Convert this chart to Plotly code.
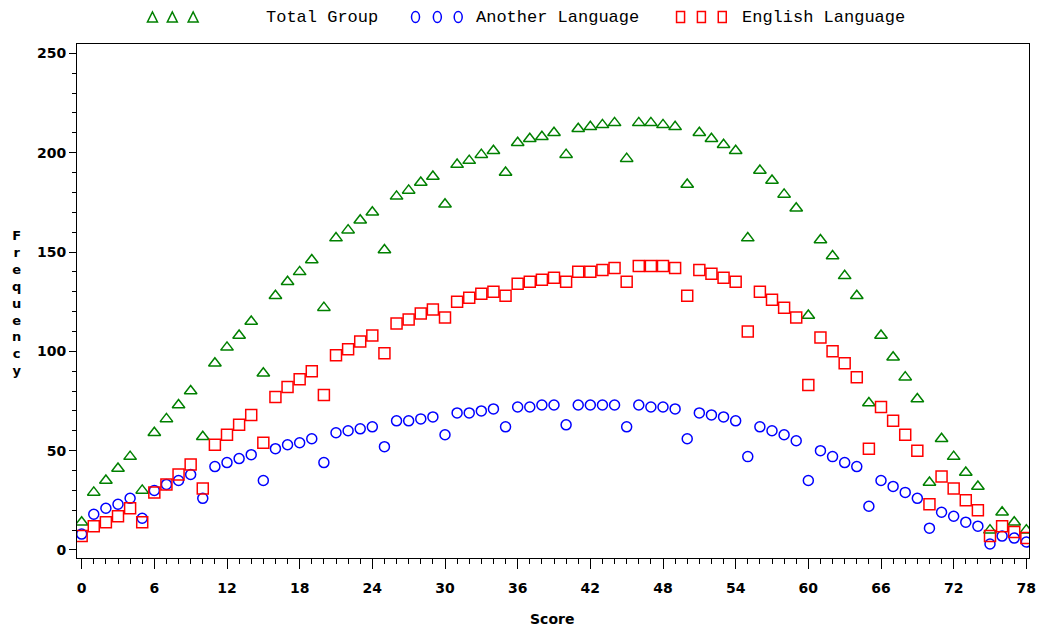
import plotly.graph_objects as go

# Score values 0..78
score = list(range(79))

total_group = [14, 29, 35, 41, 47, 30, 59, 66, 73, 80,
               57, 94, 102, 108, 115, 89, 128, 135, 140, 146,
               122, 157, 161, 166, 170, 151, 178, 181, 185, 188,
               174, 194, 196, 199, 201, 190, 205, 207, 208, 210,
               199, 212, 213, 214, 215, 197, 215, 215, 214, 213,
               184, 210, 207, 204, 201, 157, 191, 186, 179, 172,
               118, 156, 148, 138, 128, 74, 108, 97, 87, 76,
               34, 56, 47, 39, 32, 10, 19, 14, 10]

another_language = [8, 18, 21, 23, 26, 16, 30, 33, 35, 38,
                    26, 42, 44, 46, 48, 35, 51, 53, 54, 56,
                    44, 59, 60, 61, 62, 52, 65, 65, 66, 67,
                    58, 69, 69, 70, 71, 62, 72, 72, 73, 73,
                    63, 73, 73, 73, 73, 62, 73, 72, 72, 71,
                    56, 69, 68, 67, 65, 47, 62, 60, 58, 55,
                    35, 50, 47, 44, 42, 22, 35, 32, 29, 26,
                    11, 19, 17, 14, 12, 3, 7, 6, 4]

english_language = [7, 12, 14, 17, 21, 14, 29, 33, 38, 43,
                    31, 53, 58, 63, 68, 54, 77, 82, 86, 90,
                    78, 98, 101, 105, 108, 99, 114, 116, 119, 121,
                    117, 125, 127, 129, 130, 128, 134, 135, 136, 137,
                    135, 140, 140, 141, 142, 135, 143, 143, 143, 142,
                    128, 141, 139, 137, 135, 110, 130, 126, 122, 117,
                    83, 107, 100, 94, 87, 51, 72, 65, 58, 50,
                    23, 37, 31, 25, 20, 7, 12, 9, 6]

series_names = ["Total Group", "Another Language", "English Language"]
x_tick_step = 6
y_tick_step = 50

GREEN = "#008000"
BLUE = "#0000FF"
RED = "#FF0000"

W, H = 1044, 626
L, R, T, B = 77, 1036, 44, 558


def px_x(px):
    return (px - L) / (R - L)


def px_y(py):
    return (B - py) / (B - T)


fig = go.Figure()

fig.add_trace(go.Scatter(
    x=score, y=total_group, mode="markers", name=series_names[0],
    marker=dict(symbol="triangle-up-open", size=11, color=GREEN,
                line=dict(width=1.5, color=GREEN)),
))
fig.add_trace(go.Scatter(
    x=score, y=another_language, mode="markers", name=series_names[1],
    marker=dict(symbol="circle-open", size=10, color=BLUE,
                line=dict(width=1.5, color=BLUE)),
))
fig.add_trace(go.Scatter(
    x=score, y=english_language, mode="markers", name=series_names[2],
    marker=dict(symbol="square-open", size=11, color=RED,
                line=dict(width=1.5, color=RED)),
))

tick_font = dict(family="DejaVu Sans", size=14, color="black", weight="bold")

fig.update_xaxes(
    range=[-0.385, 78.22], tickmode="linear", tick0=0, dtick=x_tick_step,
    ticks="outside", ticklen=10, tickwidth=1, tickcolor="black",
    ticklabelstandoff=7,
    showline=True, linecolor="black", linewidth=1, mirror=True,
    showgrid=False, zeroline=False, tickfont=tick_font,
    minor=dict(dtick=1, ticks="outside", ticklen=5, tickwidth=1,
               tickcolor="black", showgrid=False),
)
fig.update_yaxes(
    range=[-4.03, 254.7], tickmode="linear", tick0=0, dtick=y_tick_step,
    ticks="outside", ticklen=7, tickwidth=1, tickcolor="black",
    showline=True, linecolor="black", linewidth=1, mirror=True,
    showgrid=False, zeroline=False, tickfont=tick_font,
    minor=dict(dtick=10, ticks="outside", ticklen=4, tickwidth=1,
               tickcolor="black", showgrid=False),
)

title_font = dict(family="DejaVu Sans", size=14, color="black", weight="bold")
legend_font = dict(family="Liberation Mono", size=17, color="black")

annotations = [
    dict(text="Score", x=px_x(555), y=px_y(619), xref="paper", yref="paper",
         xanchor="center", yanchor="middle", showarrow=False, font=title_font),
    dict(text="<br>".join("Frequency"), x=px_x(16), y=px_y(303),
         xref="paper", yref="paper", xanchor="center", yanchor="middle",
         showarrow=False, font=dict(title_font, size=13)),
    dict(text=series_names[0], x=px_x(265), y=px_y(18), xref="paper",
         yref="paper", xanchor="left", yanchor="middle", showarrow=False,
         font=legend_font),
    dict(text=series_names[1], x=px_x(477), y=px_y(18), xref="paper",
         yref="paper", xanchor="left", yanchor="middle", showarrow=False,
         font=legend_font),
    dict(text=series_names[2], x=px_x(745), y=px_y(18), xref="paper",
         yref="paper", xanchor="left", yanchor="middle", showarrow=False,
         font=legend_font),
]

# Legend key glyphs: three per series, drawn as small pixel-sized shapes
shapes = []
key_y = px_y(17)
for cx in (153, 173, 194):
    shapes.append(dict(type="path", xref="paper", yref="paper",
                       xsizemode="pixel", ysizemode="pixel",
                       xanchor=px_x(cx), yanchor=key_y,
                       path="M -5,-5 L 5,-5 L 0,5 Z",
                       line=dict(color=GREEN, width=1.5)))
for cx in (418, 440, 461):
    shapes.append(dict(type="circle", xref="paper", yref="paper",
                       xsizemode="pixel", ysizemode="pixel",
                       xanchor=px_x(cx), yanchor=key_y,
                       x0=-4, x1=4, y0=-5.5, y1=5.5,
                       line=dict(color=BLUE, width=1.5)))
for cx in (685, 706, 727):
    shapes.append(dict(type="rect", xref="paper", yref="paper",
                       xsizemode="pixel", ysizemode="pixel",
                       xanchor=px_x(cx), yanchor=key_y,
                       x0=-4, x1=4, y0=-5.5, y1=5.5,
                       line=dict(color=RED, width=1.5)))

fig.update_layout(
    width=W, height=H,
    margin=dict(l=L, r=W - R, t=T, b=H - B, pad=0),
    plot_bgcolor="white", paper_bgcolor="white",
    showlegend=False,
    annotations=annotations,
    shapes=shapes,
)

fig.write_html("out.html")
